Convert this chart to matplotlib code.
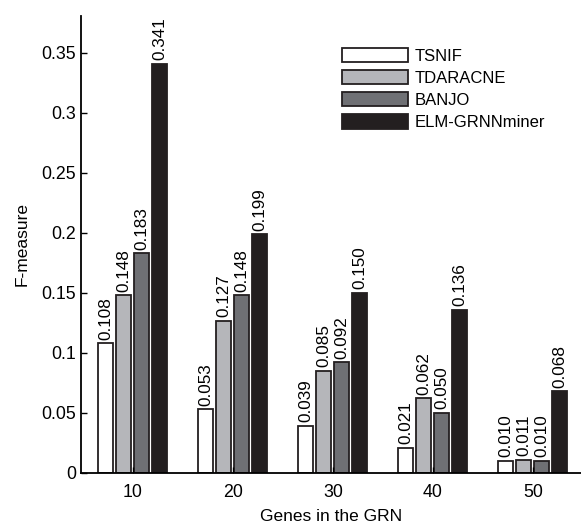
import numpy as np
import matplotlib.pyplot as plt

plt.rcParams['font.family'] = ['Liberation Sans', 'DejaVu Sans']

genes = [10, 20, 30, 40, 50]
methods = ['TSNIF', 'TDARACNE', 'BANJO', 'ELM-GRNNminer']
tsnif = [0.108, 0.053, 0.039, 0.021, 0.010]
tdaracne = [0.148, 0.127, 0.085, 0.062, 0.011]
banjo = [0.183, 0.148, 0.092, 0.050, 0.010]
elm = [0.341, 0.199, 0.150, 0.136, 0.068]
ytick_labels = ['0', '0.05', '0.1', '0.15', '0.2', '0.25', '0.3', '0.35']
colors = ['#ffffff', '#b5b6ba', '#6f7074', '#231f20']


def main():
    fig = plt.figure(figsize=(5.81, 5.26), dpi=100)
    ax = fig.add_axes([0.139, 0.101, 0.861, 0.869])

    series = [tsnif, tdaracne, banjo, elm]
    offsets = [-2.7, -0.9, 0.9, 2.7]
    x = np.array(genes, dtype=float)
    for vals, off, col, name in zip(series, offsets, colors, methods):
        bars = ax.bar(x + off, vals, width=1.5, color=col, edgecolor='#231f20',
                      linewidth=1.3, label=name)
        # value labels above each bar
        for b, v in zip(bars, vals):
            ax.text(b.get_x() + b.get_width() / 2, v + 0.003, f"{v:.3f}",
                    rotation=90, ha='center', va='bottom', fontsize=12.3)

    ax.set_xlim(4.8, 54.8)
    ax.set_ylim(0, 0.381)
    ax.set_xticks(genes)
    ax.set_yticks(np.arange(0, 0.36, 0.05))
    ax.set_yticklabels(ytick_labels)
    ax.tick_params(direction='in', length=4, labelsize=12.8, width=1)
    ax.tick_params(axis='x', pad=8)
    ax.spines['top'].set_visible(False)
    ax.spines['right'].set_visible(False)
    ax.spines['left'].set_linewidth(1.3)
    ax.spines['bottom'].set_linewidth(1.3)
    ax.set_xlabel('Genes in the GRN', fontsize=12.5, labelpad=6)
    ax.set_ylabel('F-measure', fontsize=12.5, labelpad=8)

    ax.legend(loc='upper left', bbox_to_anchor=(0.508, 0.945), frameon=False,
              fontsize=12, handlelength=4, handleheight=0.95, labelspacing=0.38,
              handletextpad=0.4, borderaxespad=0)

    fig.savefig('out.png', dpi=100)


if __name__ == "__main__":
    main()
